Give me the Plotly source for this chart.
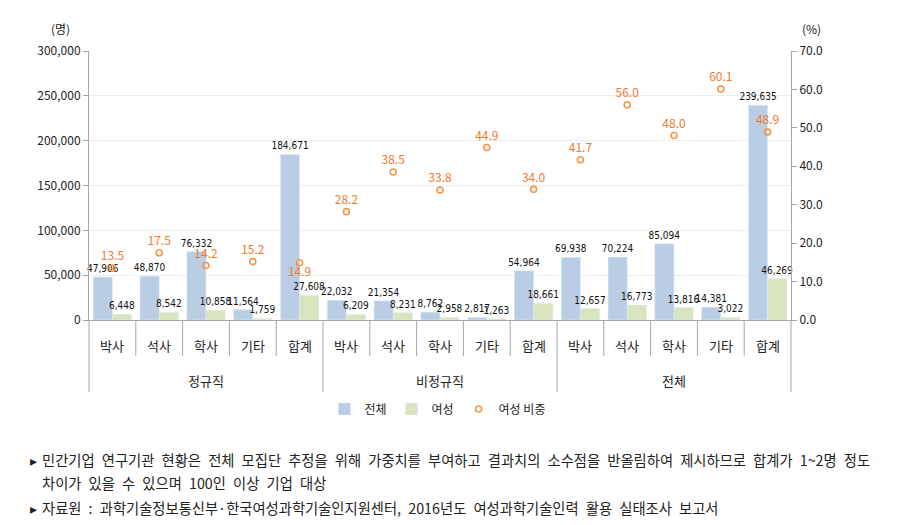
import plotly.graph_objects as go
from plotly.subplots import make_subplots

groups = ["정규직", "비정규직", "전체"]
degrees = ["박사", "석사", "학사", "기타", "합계"]

total_reg = [47906, 48870, 76332, 11564, 184671]
female_reg = [6448, 8542, 10858, 1759, 27608]
share_reg = [13.5, 17.5, 14.2, 15.2, 14.9]

total_irr = [22032, 21354, 8762, 2817, 54964]
female_irr = [6209, 8231, 2958, 1263, 18661]
share_irr = [28.2, 38.5, 33.8, 44.9, 34.0]

total_all = [69938, 70224, 85094, 14381, 239635]
female_all = [12657, 16773, 13816, 3022, 46269]
share_all = [41.7, 56.0, 48.0, 60.1, 48.9]

total = total_reg + total_irr + total_all
female = female_reg + female_irr + female_all
share = share_reg + share_irr + share_all

xg = [g for g in groups for _ in degrees]
xd = degrees * len(groups)
x = [xg, xd]

BLUE = "#b9cde5"
GREEN = "#d7e4bd"
ORANGE = "#f79646"
ORANGE_T = "#ee7a2e"
LBL_FONT = "Liberation Sans Narrow, DejaVu Sans Condensed, Noto Sans CJK KR"
KFONT = "Noto Sans CJK KR"

fig = make_subplots(specs=[[{"secondary_y": True}]])

fig.add_trace(go.Bar(
    x=x, y=total, name="전체", marker_color=BLUE,
    text=[f"{v:,}" for v in total], textposition="outside",
    textfont=dict(size=10, color="#111111", family=LBL_FONT),
    constraintext="none", cliponaxis=False,
), secondary_y=False)
fig.add_trace(go.Bar(
    x=x, y=female, name="여성", marker_color=GREEN,
    text=[f"{v:,}" for v in female], textposition="outside",
    textfont=dict(size=10, color="#111111", family=LBL_FONT),
    constraintext="none", cliponaxis=False,
), secondary_y=False)

positions = ["top center"] * len(share)
positions[4] = "bottom center"
fig.add_trace(go.Scatter(
    x=x, y=share, name="여성 비중", mode="markers+text",
    marker=dict(symbol="circle-open", size=6, color=ORANGE, line=dict(width=1.6, color=ORANGE)),
    text=[f"{v:.1f}" for v in share], textposition=positions,
    textfont=dict(size=12, color=ORANGE_T, family=KFONT),
    cliponaxis=False,
), secondary_y=True)

H = 269.0
W = 702.0
n = len(total)
shapes = []
for i in range(n + 1):
    depth = 72 if i % len(degrees) == 0 else 36
    shapes.append(dict(type="line", xref="paper", yref="paper",
                       x0=i / n, x1=i / n, y0=0, y1=-depth / H,
                       line=dict(color="#a6a6a6", width=1)))

annotations = []
for i, d in enumerate(xd):
    annotations.append(dict(text=d, xref="paper", yref="paper", x=(i + 0.5) / n,
                            y=-(345 - 320) / H, showarrow=False, xanchor="center",
                            yanchor="middle", font=dict(size=13, color="#222222", family=KFONT)))
for j, g in enumerate(groups):
    annotations.append(dict(text=g, xref="paper", yref="paper",
                            x=(j + 0.5) / len(groups), y=-(380 - 320) / H,
                            showarrow=False, xanchor="center", yanchor="middle",
                            font=dict(size=13, color="#222222", family=KFONT)))
annotations += [
    dict(text="(명)", xref="paper", yref="paper", x=-29 / W, y=(320 - 28) / H,
         showarrow=False, xanchor="center", yanchor="middle",
         font=dict(size=12, color="#222222", family=KFONT)),
    dict(text="(%)", xref="paper", yref="paper", x=(812 - 89) / W, y=(320 - 28) / H,
         showarrow=False, xanchor="center", yanchor="middle",
         font=dict(size=12, color="#222222", family=KFONT)),
]
notes = [
    (28, 459, "▸"),
    (40, 459, "민간기업 연구기관 현황은 전체 모집단 추정을 위해 가중치를 부여하고 결과치의 소수점을 반올림하여 제시하므로 합계가 1~2명 정도"),
    (40, 483, "차이가 있을 수 있으며 100인 이상 기업 대상"),
    (28, 507, "▸"),
    (40, 507, "자료원 : 과학기술정보통신부·한국여성과학기술인지원센터, 2016년도 여성과학기술인력 활용 실태조사 보고서"),
]
for px, py, t in notes:
    annotations.append(dict(text=t.replace(" ", "\u2002"), xref="paper", yref="paper",
                            x=(px - 89) / W, y=(320 - py) / H,
                            showarrow=False, xanchor="left", yanchor="middle",
                            font=dict(size=14.3, color="#222222", family=KFONT)))

# page body has an 8px margin, so shift the figure up/left by 8px
fig.update_layout(
    width=902, height=525,
    margin=dict(l=81, r=119, t=43, b=213, autoexpand=False),
    plot_bgcolor="white", paper_bgcolor="white",
    barmode="group", bargap=0.18, bargroupgap=0.0,
    font=dict(family=KFONT, color="#222222"),
    showlegend=True,
    legend=dict(orientation="h", x=0.497, xanchor="center", y=-(409 - 320) / H, yanchor="middle",
                font=dict(size=12, family=KFONT), itemwidth=30, tracegroupgap=0),
    shapes=shapes, annotations=annotations,
)
fig.update_xaxes(
    type="multicategory", domain=[0, 1], range=[-0.5, n - 0.5], autorange=False,
    showline=True, linecolor="#a6a6a6", linewidth=1,
    ticks="", showdividers=False, showticklabels=False, showgrid=False, automargin=False,
)
fig.update_yaxes(
    range=[0, 300000], dtick=50000, tickformat=",", showline=True, linecolor="#a6a6a6",
    ticks="outside", ticklen=5, tickcolor="#a6a6a6", gridcolor="#ececec", zeroline=False,
    tickfont=dict(size=12, family=KFONT, color="#222222"), automargin=False,
    secondary_y=False,
)
fig.update_yaxes(
    range=[0, 70], dtick=10, tickformat=".1f", showline=True, linecolor="#a6a6a6",
    ticks="outside", ticklen=5, tickcolor="#a6a6a6", showgrid=False, zeroline=False,
    tickfont=dict(size=12, family=KFONT, color="#222222"), automargin=False,
    secondary_y=True,
)
fig.write_html("out.html")
